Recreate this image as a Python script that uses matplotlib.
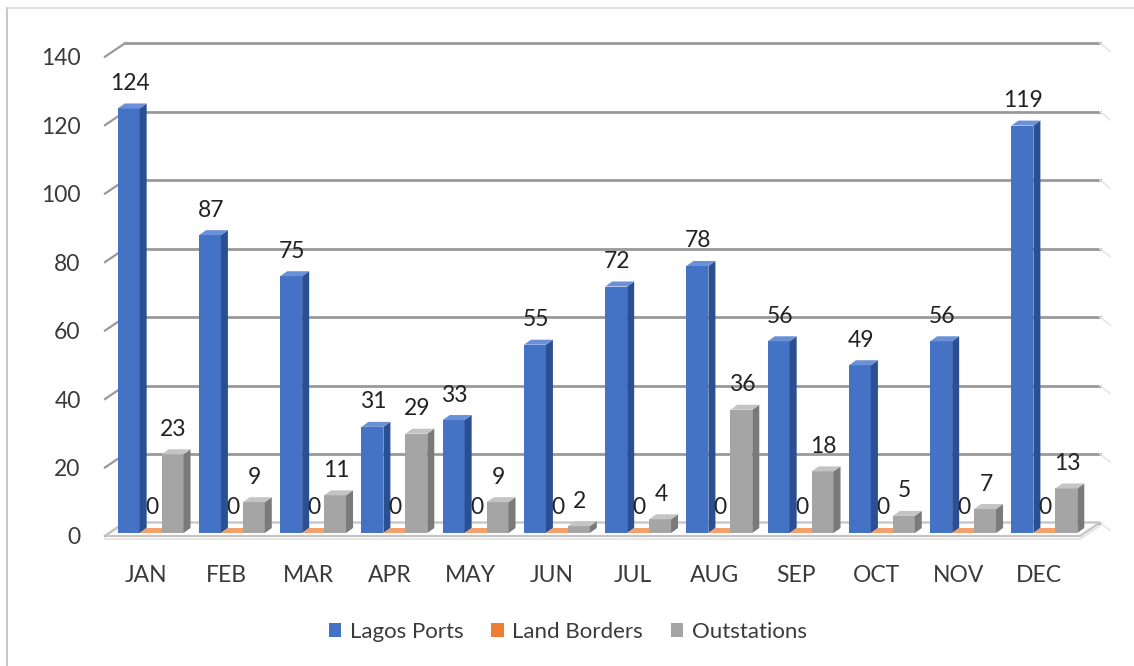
import matplotlib
matplotlib.use("Agg")
import matplotlib.pyplot as plt
from matplotlib.patches import Polygon, Patch
from matplotlib.lines import Line2D

plt.rcParams['font.family'] = ['Lato', 'DejaVu Sans']

# ---- data -------------------------------------------------------------
months = ["JAN", "FEB", "MAR", "APR", "MAY", "JUN",
          "JUL", "AUG", "SEP", "OCT", "NOV", "DEC"]
lagos_ports = [124, 87, 75, 31, 33, 55, 72, 78, 56, 49, 56, 119]
land_borders = [0, 0, 0, 0, 0, 0, 0, 0, 0, 0, 0, 0]
outstations = [23, 9, 11, 29, 9, 2, 4, 36, 18, 5, 7, 13]
series_names = ["Lagos Ports", "Land Borders", "Outstations"]
y_ticks = [0, 20, 40, 60, 80, 100, 120, 140]

# ---- styling ----------------------------------------------------------
W, H, DPI = 1134, 666, 100
face_colors = ["#4472C4", "#ED7D31", "#A5A5A5"]
side_colors = ["#2B4F93", "#B85E22", "#7A7A7A"]
top_colors = ["#6A90D8", "#F3A06A", "#C4C4C4"]
grid_color = "#999999"
text_color = "#3A3A3A"

fig = plt.figure(figsize=(W / DPI, H / DPI), dpi=DPI)
fig.patch.set_facecolor("white")

# front plane of the 3-D box
ax_l, ax_r, ax_top, ax_bot = 105, 1080, 56.7, 536
ax = fig.add_axes([ax_l / W, (H - ax_bot) / H, (ax_r - ax_l) / W, (ax_bot - ax_top) / H])
ax.set_xlim(-0.5, 11.5)
ax.set_ylim(0, 140)
for s in ax.spines.values():
    s.set_visible(False)
ax.patch.set_visible(False)

px_x = (ax_r - ax_l) / 12.0          # pixels per category
px_y = (ax_bot - ax_top) / 140.0     # pixels per value unit

def px(dx, dy):
    return dx / px_x, dy / px_y

floor_dx, floor_dy = px(20, 13.5)    # depth of the whole box
bar_sx, bar_sy = px(5, 3)            # shift of bar front from box front
bar_dx, bar_dy = px(7, 5)            # depth of a single bar
bar_w = 0.27
offsets = [-bar_w, 0.0, bar_w]

x0, x1 = -0.5, 11.5

# floor slab
floor = Polygon([(x0, 0), (x1, 0), (x1 + floor_dx, floor_dy), (x0 + floor_dx, floor_dy)],
                closed=True, facecolor="white", edgecolor="#C4C4C4", lw=1.6,
                zorder=1, clip_on=False)
ax.add_patch(floor)
ax.plot([x0, x1, x1 + floor_dx], [-0.9, -0.9, floor_dy - 0.9], color="#E2E2E2",
        lw=1.2, zorder=0.9, clip_on=False)

# back-wall gridlines and side-wall diagonals
for t in y_ticks:
    ax.plot([x0 + floor_dx, x1 + floor_dx], [t + floor_dy, t + floor_dy],
            color=grid_color, lw=2.0, zorder=0.5, clip_on=False)
    ax.plot([x0, x0 + floor_dx], [t, t + floor_dy],
            color=grid_color, lw=1.6, zorder=0.5, clip_on=False)
    ax.plot([x1 + floor_dx, x1 + floor_dx + px(10, 0)[0]], [t + floor_dy, t + floor_dy - px(0, 8)[1]],
            color="#E6E6E6", lw=1.2, zorder=0.5, clip_on=False)

# 3-D bars
all_series = [lagos_ports, land_borders, outstations]
z = 2
for i in range(len(months)):
    for k, vals in enumerate(all_series):
        v = vals[i]
        left = i + offsets[k] - bar_w / 2 + bar_sx
        right = left + bar_w
        base = bar_sy
        top = v + bar_sy
        # front face
        ax.add_patch(Polygon([(left, base), (right, base), (right, top), (left, top)],
                             closed=True, facecolor=face_colors[k], edgecolor="none",
                             zorder=z, clip_on=False))
        # right side face
        ax.add_patch(Polygon([(right, base), (right + bar_dx, base + bar_dy),
                              (right + bar_dx, top + bar_dy), (right, top)],
                             closed=True, facecolor=side_colors[k], edgecolor="none",
                             zorder=z, clip_on=False))
        # top face
        ax.add_patch(Polygon([(left, top), (right, top), (right + bar_dx, top + bar_dy),
                              (left + bar_dx, top + bar_dy)],
                             closed=True, facecolor=top_colors[k], edgecolor="none",
                             zorder=z, clip_on=False))
        z += 0.01
        # value label
        ax.annotate(f"{v}", xy=((left + right) / 2 + px(1, 0)[0], top),
                    xytext=(0, 18), textcoords="offset points",
                    ha="center", va="center", fontsize=16.5, color="#222222",
                    zorder=10, annotation_clip=False)

# axis labels
ax.set_yticks(y_ticks)
ax.set_yticklabels([str(t) for t in y_ticks], fontsize=16.5, color=text_color)
ax.set_xticks(range(len(months)))
ax.set_xticklabels(months, fontsize=16.5, color=text_color)
ax.tick_params(axis="y", length=0, pad=17.5)
ax.tick_params(axis="x", length=0, pad=21)

# legend
handles = [Patch(facecolor=c, edgecolor="none") for c in face_colors]
fig.legend(handles, series_names, loc="center", bbox_to_anchor=(568 / W, 1 - 632 / H),
           ncol=3, frameon=False, fontsize=16, handlelength=0.55, handleheight=0.55,
           handletextpad=0.4, columnspacing=1.25, labelcolor=text_color)

# chart frame
fig.add_artist(Line2D([7 / W, 7 / W], [0, 1 - 8 / H], transform=fig.transFigure,
                      color="#C8C8C8", lw=1.5))
fig.add_artist(Line2D([7 / W, 1], [1 - 8 / H, 1 - 8 / H], transform=fig.transFigure,
                      color="#DADADA", lw=1.2))

fig.savefig("out.png", dpi=DPI, facecolor="white")
